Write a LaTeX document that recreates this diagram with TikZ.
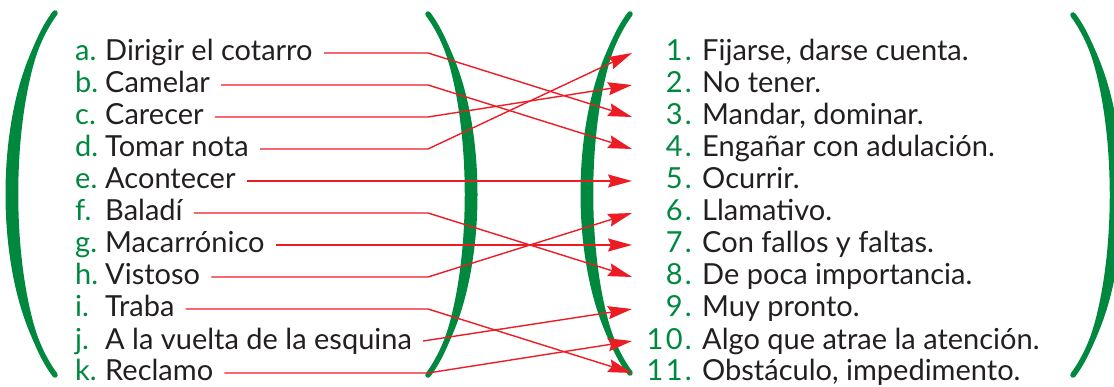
\documentclass[tikz,border=0pt]{standalone}
\usepackage{fontspec}
\setmainfont{Lato}
\usetikzlibrary{arrows.meta,calc}
\definecolor{pgreen}{HTML}{00893E}
\definecolor{pred}{HTML}{ED1C24}
\definecolor{ptext}{HTML}{231F20}
\newcommand\drawparen[4]{%
  \fill[pgreen] (#1,#2) .. controls ({#1+66*#4},{#2+76}) and ({#1+66*#4},{#3-76}) .. (#1,#3)
     .. controls ({#1+49*#4},{#3-76}) and ({#1+49*#4},{#2+76}) .. cycle;
  \draw[pgreen,line width=5.5pt,line cap=round] (#1,#2) .. controls ({#1+57*#4},{#2+76}) and ({#1+57*#4},{#3-76}) .. (#1,#3);
}
\begin{document}
\begin{tikzpicture}[x=1pt,y=-1pt,
  txt/.style={anchor=base west,inner sep=0pt,text=ptext,font=\fontsize{29}{32}\selectfont},
  key/.style={anchor=base west,inner sep=0pt,text=pgreen,font=\fontsize{29}{32}\selectfont},
  num/.style={anchor=base east,inner sep=0pt,text=pgreen,font=\fontsize{29}{32}\addfontfeatures{LetterSpace=8}\selectfont},
  link/.style={draw=pred,line width=1.4pt,-{Stealth[length=24pt,width=13pt,inset=3pt]}}
]
\useasboundingbox (0,0) rectangle (1114,387);
\clip (0,0) rectangle (1114,387);
\drawparen{55}{13}{375}{-1}
\drawparen{428}{14}{375}{1}
\drawparen{630}{14}{373}{-1}
\drawparen{1073}{15}{375}{1}
\coordinate (bend) at (428,0);
% left column
\node[key] (Ka) at (75,61) {a.};  \node[txt] (La) at (105,61) {Dirigir el cotarro};
\node[key] (Kb) at (75,93) {b.};  \node[txt] (Lb) at (105,93) {Camelar};
\node[key] (Kc) at (75,125) {c.}; \node[txt] (Lc) at (105,125) {Carecer};
\node[key] (Kd) at (75,157) {d.}; \node[txt] (Ld) at (105,157) {Tomar nota};
\node[key] (Ke) at (75,189) {e.}; \node[txt] (Le) at (105,189) {Acontecer};
\node[key] (Kf) at (75,221) {f.}; \node[txt] (Lf) at (105,221) {Baladí};
\node[key] (Kg) at (75,253) {g.}; \node[txt] (Lg) at (105,253) {Macarrónico};
\node[key] (Kh) at (75,285) {h.}; \node[txt] (Lh) at (105,285) {Vistoso};
\node[key] (Ki) at (75,317) {i.}; \node[txt] (Li) at (105,317) {Traba};
\node[key] (Kj) at (75,349) {j.}; \node[txt] (Lj) at (105,349) {A la vuelta de la esquina};
\node[key] (Kk) at (75,381) {k.}; \node[txt] (Lk) at (105,381) {Reclamo};
% right column
\node[num] (N1) at (692,61) {1.};   \node[txt] (R1) at (702,61) {Fijarse, darse cuenta.};
\node[num] (N2) at (692,93) {2.};   \node[txt] (R2) at (702,93) {No tener.};
\node[num] (N3) at (692,125) {3.};  \node[txt] (R3) at (702,125) {Mandar, dominar.};
\node[num] (N4) at (692,157) {4.};  \node[txt] (R4) at (702,157) {Engañar con adulación.};
\node[num] (N5) at (692,189) {5.};  \node[txt] (R5) at (702,189) {Ocurrir.};
\node[num] (N6) at (692,221) {6.};  \node[txt] (R6) at (702,221) {Llamativo.};
\node[num] (N7) at (692,253) {7.};  \node[txt] (R7) at (702,253) {Con fallos y faltas.};
\node[num] (N8) at (692,285) {8.};  \node[txt] (R8) at (702,285) {De poca importancia.};
\node[num] (N9) at (692,317) {9.};  \node[txt] (R9) at (702,317) {Muy pronto.};
\node[num] (N10) at (692,349) {10.}; \node[txt] (R10) at (702,349) {Algo que atrae la atención.};
\node[num] (N11) at (692,381) {11.}; \node[txt] (R11) at (702,381) {Obstáculo, impedimento.};
% connectors
\tikzset{from/.style={xshift=11pt,yshift=8pt},to/.style={xshift=-60pt,yshift=8pt}}
\draw[link] ([from]La.base east) -- ([yshift=8pt]bend |- La.base east) -- ([to]N3.base east);
\draw[link] ([from]Lb.base east) -- ([yshift=8pt]bend |- Lb.base east) -- ([to]N4.base east);
\draw[link] ([from]Lc.base east) -- ([yshift=8pt]bend |- Lc.base east) -- ([to]N2.base east);
\draw[link] ([from]Ld.base east) -- ([yshift=8pt]bend |- Ld.base east) -- ([to]N1.base east);
\draw[link] ([from]Le.base east) -- ([to]N5.base east);
\draw[link] ([from]Lf.base east) -- ([yshift=8pt]bend |- Lf.base east) -- ([to]N8.base east);
\draw[link] ([from]Lg.base east) -- ([to]N7.base east);
\draw[link] ([from]Lh.base east) -- ([yshift=8pt]bend |- Lh.base east) -- ([to]N6.base east);
\draw[link] ([from]Li.base east) -- ([yshift=8pt]bend |- Li.base east) -- ([to]N11.base east);
\draw[link] ([from]Lj.base east) -- ([to]N9.base east);
\draw[link] ([from]Lk.base east) -- ([yshift=8pt]bend |- Lk.base east) -- ([to]N10.base east);
\end{tikzpicture}
\end{document}
